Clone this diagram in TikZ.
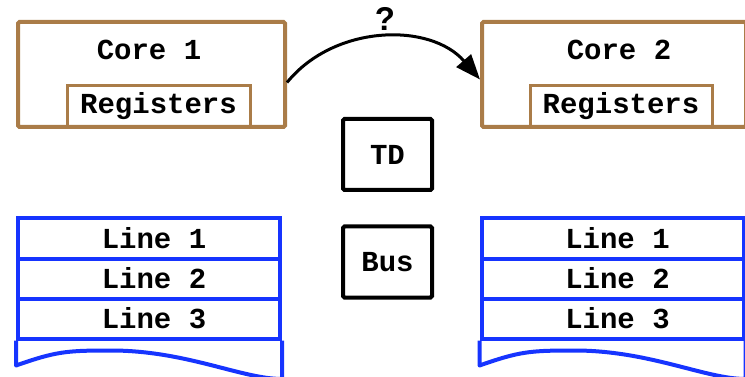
\documentclass[tikz,border=0pt]{standalone}
\usepackage{fontspec}
\setmonofont{Liberation Mono}
\setsansfont{Liberation Sans}
\usetikzlibrary{arrows.meta}

\definecolor{corebrown}{RGB}{170,124,72}
\definecolor{cacheblue}{RGB}{22,52,255}

\tikzset{
    txt/.style={font=\ttfamily\bfseries\fontsize{29}{32}\selectfont},
    corebox/.style={draw=corebrown, line width=4pt, rounded corners=1.5pt, inner sep=0pt},
    regbox/.style={draw=corebrown, line width=3pt, inner sep=0pt, txt},
    unitbox/.style={draw=black, line width=4pt, rounded corners=1.5pt, inner sep=0pt, minimum width=89pt, minimum height=71pt, txt},
    linebox/.style={draw=cacheblue, line width=4pt, inner sep=0pt, minimum width=262pt, minimum height=40pt, txt},
}

\begin{document}
\begin{tikzpicture}[x=1pt, y=-1pt]
    \useasboundingbox (0, 0) rectangle (745, 377);

    % Cores
    \node[corebox, minimum width=267pt, minimum height=105pt] (core1) at (151.5, 74.5) {};
    \node[corebox, minimum width=264pt, minimum height=105pt] (core2) at (614, 74.5) {};
    \node[txt] (core1lbl) at (149, 50) {Core 1};
    \node[txt] (core2lbl) at (619, 50) {Core 2};

    %% registers
    \node[regbox, minimum width=183pt, minimum height=41pt] (reg1) at (158.5, 106.5) {Registers\hspace{10pt}};
    \node[regbox, minimum width=182pt, minimum height=41pt] (reg2) at (621, 106.5) {Registers\hspace{10pt}};

    % Migration
    \draw[line width=3pt, -{Triangle[length=25pt, width=19pt]}]
        ([yshift=-8pt]core1.east) to[bend left=50] ([yshift=-5pt]core2.west);
    \node[font=\sffamily\bfseries\fontsize{33}{35}\selectfont] (ask) at (385, 19) {?};

    % TD and bus
    \node[unitbox] (td) at (387.5, 154.5) {TD};
    \node[unitbox] (bus) at (387.5, 262) {Bus};

    % Caches
    \foreach \side/\x/\w in {a/149/262, b/612.5/262} {
        \foreach \i in {1, 2, 3} {
            \node[linebox, minimum width=\w pt] (line\side\i) at (\x, 198.5 + 40*\i) {\hspace{10pt}Line \i};
        }
    }

    %% torn bottom
    \draw[cacheblue, line width=4pt, line join=round]
        (linea3.south west) -- ++(0, 25)
        .. controls +(40, -14) and +(-45, 0) .. ++(95, -15)
        .. controls +(75, 0) and +(-40, 0) .. (linea3.south east |- 0, 379)
        -- (linea3.south east);
    \draw[cacheblue, line width=4pt, line join=round]
        (lineb3.south west) -- ++(0, 25)
        .. controls +(40, -14) and +(-45, 0) .. ++(95, -15)
        .. controls +(75, 0) and +(-40, 0) .. (lineb3.south east |- 0, 379)
        -- (lineb3.south east);
\end{tikzpicture}
\end{document}
